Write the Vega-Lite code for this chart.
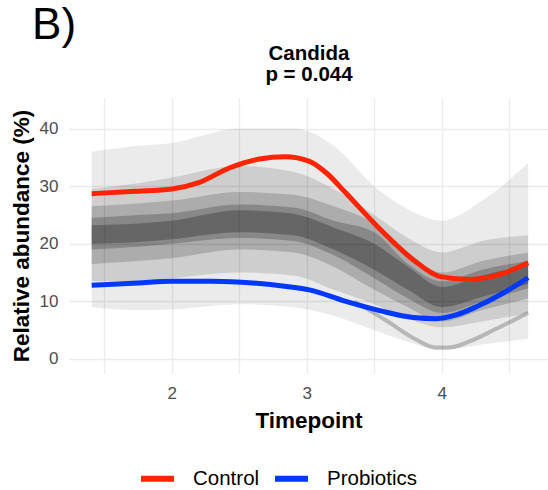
{
  "$schema": "https://vega.github.io/schema/vega-lite/v6.json",
  "width": 479,
  "height": 275,
  "autosize": {"type": "none"},
  "padding": {"left": 69, "top": 98, "right": 0, "bottom": 117},
  "background": "white",
  "title": {"text": "B)", "anchor": "start", "dx": 22, "dy": 9, "fontSize": 44, "fontWeight": "normal", "font": "Liberation Sans", "color": "black"},
  "config": {
    "view": {"stroke": null},
    "font": "Liberation Sans",
    "axis": {
      "labelFont": "Liberation Sans",
      "labelFontSize": 17,
      "labelColor": "#4D4D4D",
      "titleFont": "Liberation Sans",
      "titleFontSize": 22.5,
      "titleFontWeight": "bold",
      "titleColor": "black",
      "gridColor": "#EBEBEB",
      "gridWidth": 1.3,
      "domain": false,
      "ticks": false
    }
  },
  "datasets": {
    "cloud": [
      {"band": "outer", "t": 1.407, "lo": 9, "hi": 36},
      {"band": "outer", "t": 1.75, "lo": 8.5, "hi": 37},
      {"band": "outer", "t": 2.0, "lo": 8.6, "hi": 37.5},
      {"band": "outer", "t": 2.5, "lo": 9.5, "hi": 40},
      {"band": "outer", "t": 2.9, "lo": 9, "hi": 40},
      {"band": "outer", "t": 3.2, "lo": 7.5, "hi": 37},
      {"band": "outer", "t": 3.5, "lo": 5, "hi": 30},
      {"band": "outer", "t": 3.75, "lo": 3, "hi": 26},
      {"band": "outer", "t": 4.0, "lo": 1.5, "hi": 24},
      {"band": "outer", "t": 4.3, "lo": 2.5, "hi": 27.5},
      {"band": "outer", "t": 4.64, "lo": 3.5, "hi": 34},
      {"band": "light", "t": 1.407, "lo": 13.5, "hi": 29.5},
      {"band": "light", "t": 1.75, "lo": 13.5, "hi": 30.5},
      {"band": "light", "t": 2.0, "lo": 14, "hi": 31.5},
      {"band": "light", "t": 2.5, "lo": 15, "hi": 33.5},
      {"band": "light", "t": 2.9, "lo": 14.5, "hi": 32.5},
      {"band": "light", "t": 3.2, "lo": 12, "hi": 29.5},
      {"band": "light", "t": 3.5, "lo": 9.5, "hi": 25},
      {"band": "light", "t": 3.75, "lo": 7, "hi": 21},
      {"band": "light", "t": 4.0, "lo": 5.5, "hi": 18.5},
      {"band": "light", "t": 4.3, "lo": 6.5, "hi": 20.5},
      {"band": "light", "t": 4.64, "lo": 8, "hi": 21.5},
      {"band": "medium", "t": 1.407, "lo": 16.5, "hi": 26.5},
      {"band": "medium", "t": 1.75, "lo": 17, "hi": 27},
      {"band": "medium", "t": 2.0, "lo": 17.5, "hi": 27.5},
      {"band": "medium", "t": 2.5, "lo": 19, "hi": 29},
      {"band": "medium", "t": 2.9, "lo": 18.5, "hi": 28.5},
      {"band": "medium", "t": 3.2, "lo": 16, "hi": 26.5},
      {"band": "medium", "t": 3.5, "lo": 12, "hi": 23.5},
      {"band": "medium", "t": 3.75, "lo": 9, "hi": 18.5},
      {"band": "medium", "t": 4.0, "lo": 6.5, "hi": 15},
      {"band": "medium", "t": 4.3, "lo": 8.5, "hi": 17},
      {"band": "medium", "t": 4.64, "lo": 10.5, "hi": 18.5},
      {"band": "core", "t": 1.407, "lo": 19, "hi": 24.5},
      {"band": "core", "t": 1.75, "lo": 19.5, "hi": 25},
      {"band": "core", "t": 2.0, "lo": 20, "hi": 25.3},
      {"band": "core", "t": 2.5, "lo": 21, "hi": 26.8},
      {"band": "core", "t": 2.9, "lo": 20.5, "hi": 26.3},
      {"band": "core", "t": 3.2, "lo": 18, "hi": 24},
      {"band": "core", "t": 3.5, "lo": 14, "hi": 22},
      {"band": "core", "t": 3.75, "lo": 10.5, "hi": 16.5},
      {"band": "core", "t": 4.0, "lo": 8, "hi": 13.5},
      {"band": "core", "t": 4.3, "lo": 10, "hi": 15.5},
      {"band": "core", "t": 4.64, "lo": 12.3, "hi": 17},
      {"band": "darkest", "t": 1.407, "lo": 20, "hi": 23.2},
      {"band": "darkest", "t": 1.75, "lo": 20.3, "hi": 23.5},
      {"band": "darkest", "t": 2.0, "lo": 20.8, "hi": 24},
      {"band": "darkest", "t": 2.5, "lo": 22, "hi": 25.8},
      {"band": "darkest", "t": 2.9, "lo": 21.5, "hi": 25.2},
      {"band": "darkest", "t": 3.2, "lo": 19, "hi": 22.8},
      {"band": "darkest", "t": 3.5, "lo": 15.5, "hi": 20},
      {"band": "darkest", "t": 3.75, "lo": 12, "hi": 16},
      {"band": "darkest", "t": 4.0, "lo": 9, "hi": 12.5},
      {"band": "darkest", "t": 4.3, "lo": 10.8, "hi": 14.5},
      {"band": "darkest", "t": 4.64, "lo": 13, "hi": 16.3}
    ],
    "arc": [
      {"t": 3.35, "v": 10},
      {"t": 3.6, "v": 6.5},
      {"t": 3.8, "v": 3.5},
      {"t": 3.95, "v": 2.0},
      {"t": 4.05, "v": 2.0},
      {"t": 4.2, "v": 3.0},
      {"t": 4.4, "v": 5.2},
      {"t": 4.64, "v": 8}
    ],
    "lines": [
      {"group": "Control", "t": 1.407, "v": 28.7},
      {"group": "Control", "t": 1.73, "v": 29.1},
      {"group": "Control", "t": 2.0, "v": 29.5},
      {"group": "Control", "t": 2.2, "v": 30.6},
      {"group": "Control", "t": 2.43, "v": 33.2},
      {"group": "Control", "t": 2.65, "v": 34.7},
      {"group": "Control", "t": 2.84, "v": 35.1},
      {"group": "Control", "t": 3.02, "v": 34.3},
      {"group": "Control", "t": 3.15, "v": 32.2},
      {"group": "Control", "t": 3.29, "v": 28.8},
      {"group": "Control", "t": 3.54, "v": 22.6},
      {"group": "Control", "t": 3.79, "v": 17.2},
      {"group": "Control", "t": 3.99, "v": 14.3},
      {"group": "Control", "t": 4.21, "v": 13.8},
      {"group": "Control", "t": 4.46, "v": 14.9},
      {"group": "Control", "t": 4.64, "v": 16.7},
      {"group": "Probiotics", "t": 1.407, "v": 12.8},
      {"group": "Probiotics", "t": 1.75, "v": 13.2},
      {"group": "Probiotics", "t": 2.0, "v": 13.5},
      {"group": "Probiotics", "t": 2.3, "v": 13.5},
      {"group": "Probiotics", "t": 2.6, "v": 13.2},
      {"group": "Probiotics", "t": 2.85, "v": 12.6},
      {"group": "Probiotics", "t": 3.02, "v": 12.0},
      {"group": "Probiotics", "t": 3.29, "v": 10.0},
      {"group": "Probiotics", "t": 3.54, "v": 8.4},
      {"group": "Probiotics", "t": 3.79, "v": 7.2},
      {"group": "Probiotics", "t": 3.96, "v": 7.0},
      {"group": "Probiotics", "t": 4.1, "v": 7.6},
      {"group": "Probiotics", "t": 4.26, "v": 9.1},
      {"group": "Probiotics", "t": 4.46, "v": 11.5},
      {"group": "Probiotics", "t": 4.64, "v": 14.1}
    ]
  },
  "layer": [
    {
      "data": {"name": "cloud"},
      "mark": {"type": "area", "color": "black", "interpolate": "monotone"},
      "encoding": {
        "x": {"field": "t", "type": "quantitative", "scale": {"domain": [1.239, 4.787], "nice": false, "zero": false},
          "axis": {"values": [1.5, 2, 2.5, 3, 3.5, 4, 4.5], "labelExpr": "datum.value % 1 === 0 ? format(datum.value, 'd') : ''", "labelPadding": 12, "title": "Timepoint", "titlePadding": 8}},
        "y": {"field": "lo", "type": "quantitative", "scale": {"domain": [-2.43, 45.3], "nice": false, "zero": false},
          "axis": {"values": [0, 5, 10, 15, 20, 25, 30, 35, 40, 45], "labelExpr": "datum.value % 10 === 0 ? datum.label : ''", "labelPadding": 11, "title": "Relative abundance (%)", "titlePadding": 6}},
        "y2": {"field": "hi"},
        "opacity": {"field": "band", "type": "nominal", "scale": {"domain": ["outer", "light", "medium", "core", "darkest"], "range": [0.08, 0.25, 0.45, 0.7, 0.8]}, "legend": null}
      }
    },
    {
      "data": {"name": "arc"},
      "mark": {"type": "line", "color": "black", "opacity": 0.22, "strokeWidth": 4, "interpolate": "monotone"},
      "encoding": {
        "x": {"field": "t", "type": "quantitative", "axis": null},
        "y": {"field": "v", "type": "quantitative"}
      }
    },
    {
      "data": {"name": "lines"},
      "mark": {"type": "line", "strokeWidth": 5, "interpolate": "monotone"},
      "encoding": {
        "x": {"field": "t", "type": "quantitative",
          "axis": {"orient": "top", "title": ["Candida", "p = 0.044"], "labels": false, "ticks": false, "domain": false, "grid": false, "titleFontSize": 20.5, "titleFontWeight": "bold", "titleLineHeight": 21, "titlePadding": 14, "titleColor": "black"}},
        "y": {"field": "v", "type": "quantitative"},
        "color": {"field": "group", "type": "nominal",
          "scale": {"domain": ["Control", "Probiotics"], "range": ["#FF2400", "#0038FF"]},
          "legend": {"orient": "none", "legendX": 69, "legendY": 361, "direction": "horizontal", "title": null, "symbolType": "stroke", "symbolStrokeWidth": 6, "symbolSize": 1089, "labelFontSize": 20.5, "labelColor": "black", "labelFont": "Liberation Sans", "labelOffset": 16, "columnPadding": 3}}
      }
    }
  ],
  "resolve": {"axis": {"x": "independent"}}
}
